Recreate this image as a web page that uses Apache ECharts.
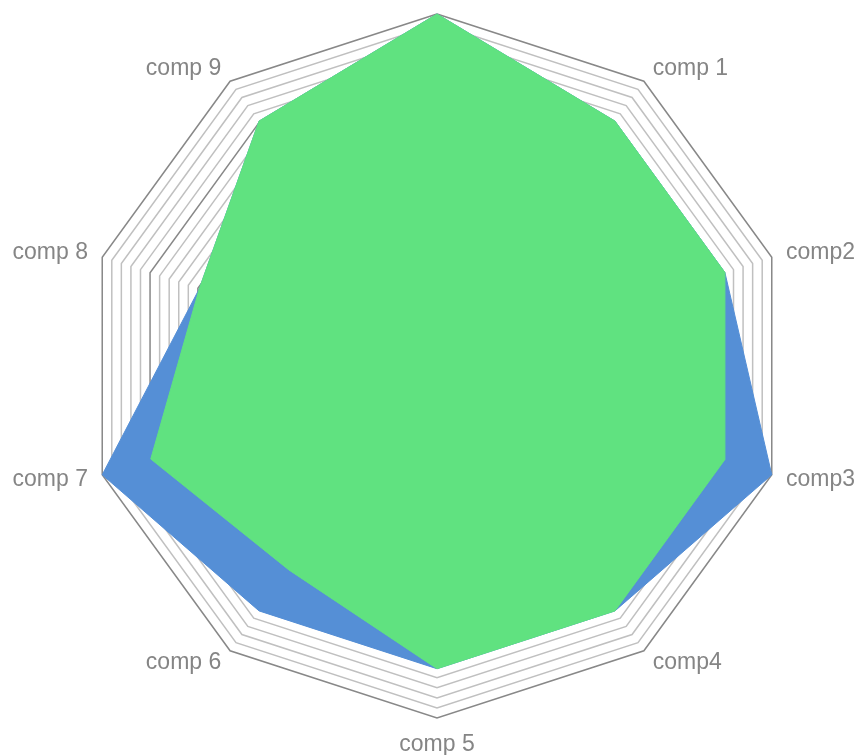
<!DOCTYPE html>
<html>
<head>
<meta charset="utf-8">
<script src="https://cdn.jsdelivr.net/npm/echarts@6/dist/echarts.min.js"></script>
<style>
html,body{margin:0;padding:0;background:#fff;}
#chart{width:858px;height:755px;}
</style>
</head>
<body>
<div id="chart"></div>
<script>
// Indicators in ECharts order (counter-clockwise from the top)
const indicatorNames = ['', 'comp 9', 'comp 8', 'comp 7', 'comp 6', 'comp 5', 'comp4', 'comp3', 'comp2', 'comp 1'];
const indicatorMax = 100;
const blueValues  = [100, 86, 71, 100, 86, 86, 86, 100, 86, 86];
const greenValues = [100, 86, 71, 85.5, 71.6, 86, 86, 86, 86, 86];

const chart = echarts.init(document.getElementById('chart'), null, {renderer: 'canvas'});
chart.setOption({
  animation: false,
  backgroundColor: '#ffffff',
  radar: {
    center: [437, 366],
    radius: 352,
    startAngle: 90,
    shape: 'polygon',
    splitNumber: 35,
    indicator: indicatorNames.map(n => ({name: n, max: indicatorMax, min: 0})),
    axisName: {
      color: '#858585',
      fontSize: 23,
      fontFamily: 'Liberation Sans, Arial, sans-serif'
    },
    nameGap: 15,
    axisLine: {show: false},
    axisTick: {show: false},
    axisLabel: {show: false},
    splitArea: {show: false},
    splitLine: {
      lineStyle: {
        color: ['#888888', '#c0c0c0', '#c0c0c0', '#c0c0c0', '#c0c0c0'],
        width: 1.5
      }
    }
  },
  series: [{
    type: 'radar',
    symbol: 'none',
    data: [
      {
        value: blueValues,
        lineStyle: {color: '#558fd6', width: 1},
        areaStyle: {color: '#558fd6', opacity: 1}
      },
      {
        value: greenValues,
        lineStyle: {color: '#60e280', width: 1},
        areaStyle: {color: '#60e280', opacity: 1}
      }
    ]
  }]
});
</script>
</body>
</html>
